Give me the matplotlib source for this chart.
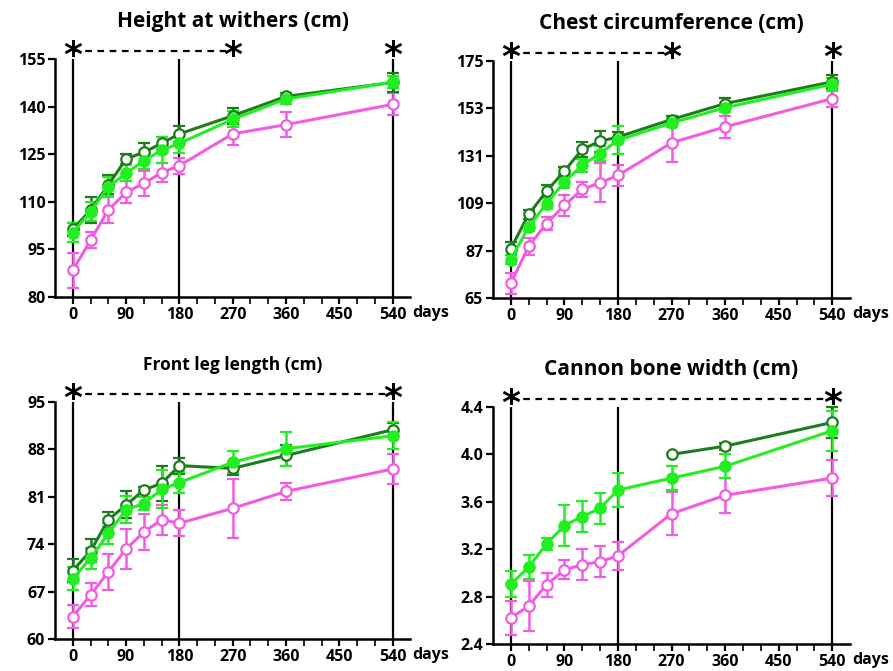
import matplotlib
matplotlib.use("Agg")
import matplotlib.pyplot as plt
import matplotlib.transforms as mtransforms
import numpy as np

plt.rcParams['font.family'] = ['Open Sans', 'DejaVu Sans']

days = [0, 30, 60, 90, 120, 150, 180, 270, 360, 540]

# Height at withers
hw_dark = [101.3, 107.4, 115.3, 123.5, 125.6, 128.4, 131.4, 137.1, 143.2, 147.6]
hw_dark_err = [2.0, 4.0, 3.0, 1.5, 3.0, 2.0, 2.5, 2.5, 1.0, 3.0]
hw_light = [100.3, 106.8, 114.7, 119.0, 122.9, 126.3, 128.4, 136.0, 142.4, 147.7]
hw_light_err = [3.0, 3.0, 3.0, 2.5, 2.5, 4.0, 3.0, 2.5, 1.5, 2.0]
hw_pink = [88.4, 97.9, 107.4, 113.0, 115.8, 119.2, 121.4, 131.4, 134.3, 140.7]
hw_pink_err = [5.5, 2.5, 4.0, 3.5, 4.0, 3.0, 2.5, 3.5, 4.0, 3.5]

# Chest circumference
cc_dark = [87.9, 103.8, 114.5, 123.9, 134.0, 137.7, 139.7, 147.8, 155.2, 165.3]
cc_dark_err = [3.0, 2.0, 3.0, 2.0, 3.5, 5.0, 2.5, 1.5, 2.5, 3.0]
cc_light = [82.8, 98.0, 108.8, 118.8, 126.6, 132.0, 138.2, 146.2, 153.3, 164.2]
cc_light_err = [2.0, 2.0, 2.5, 3.0, 3.0, 3.5, 6.5, 2.0, 2.0, 3.0]
cc_pink = [71.7, 89.0, 99.5, 108.0, 115.4, 118.4, 121.9, 137.0, 144.4, 157.5]
cc_pink_err = [5.0, 4.0, 3.0, 5.0, 3.5, 9.0, 5.0, 9.0, 5.0, 4.0]

# Front leg length
fl_dark = [70.1, 73.0, 77.6, 79.8, 82.0, 83.0, 85.6, 85.2, 87.1, 90.9]
fl_dark_err = [1.7, 1.7, 1.2, 2.0, 0.5, 2.6, 1.2, 1.0, 1.5, 1.0]
fl_light = [68.9, 71.9, 75.6, 79.1, 80.0, 82.1, 83.1, 86.1, 88.1, 90.0]
fl_light_err = [1.7, 1.5, 1.5, 2.0, 1.0, 2.8, 1.6, 1.6, 2.5, 2.0]
fl_pink = [63.3, 66.5, 69.9, 73.3, 75.8, 77.6, 77.1, 79.3, 81.8, 85.1]
fl_pink_err = [1.7, 1.7, 2.7, 3.0, 2.7, 2.2, 1.9, 4.4, 1.3, 2.2]

# Cannon bone width
cb_dark = [np.nan, np.nan, np.nan, np.nan, np.nan, np.nan, np.nan, 4.0, 4.07, 4.27]
cb_dark_err = [0, 0, 0, 0, 0, 0, 0, 0.0, 0.03, 0.13]
cb_light = [2.904, 3.05, 3.245, 3.40, 3.476, 3.546, 3.70, 3.80, 3.90, 4.20]
cb_light_err = [0.11, 0.10, 0.05, 0.17, 0.13, 0.13, 0.14, 0.10, 0.10, 0.17]
cb_pink = [2.62, 2.72, 2.90, 3.025, 3.07, 3.095, 3.145, 3.50, 3.655, 3.80]
cb_pink_err = [0.14, 0.21, 0.10, 0.08, 0.13, 0.13, 0.12, 0.18, 0.15, 0.15]

DARK = "#1d7d1d"
LIGHT = "#22ee22"
PINK = "#f25ce0"

fig = plt.figure(figsize=(8.93, 6.71), dpi=100)

panels = [
    dict(pos=[0.0616, 0.5574, 0.398, 0.3547], title="Height at withers (cm)", tsize=15,
         ylim=(80, 155), yticks=[80, 95, 110, 125, 140, 155], yfmt="{:.0f}",
         dark=(hw_dark, hw_dark_err), light=(hw_light, hw_light_err), pink=(hw_pink, hw_pink_err),
         stars=[0, 270, 540], dash_end=270),
    dict(pos=[0.552, 0.556, 0.400, 0.3532], title="Chest circumference (cm)", tsize=15,
         ylim=(65, 175), yticks=[65, 87, 109, 131, 153, 175], yfmt="{:.0f}",
         dark=(cc_dark, cc_dark_err), light=(cc_light, cc_light_err), pink=(cc_pink, cc_pink_err),
         stars=[0, 270, 540], dash_end=270),
    dict(pos=[0.0616, 0.0477, 0.398, 0.3532], title="Front leg length (cm)", tsize=12.5,
         ylim=(60, 95), yticks=[60, 67, 74, 81, 88, 95], yfmt="{:.0f}",
         dark=(fl_dark, fl_dark_err), light=(fl_light, fl_light_err), pink=(fl_pink, fl_pink_err),
         stars=[0, 540], dash_end=540),
    dict(pos=[0.552, 0.0402, 0.400, 0.3532], title="Cannon bone width (cm)", tsize=15,
         ylim=(2.4, 4.4), yticks=[2.4, 2.8, 3.2, 3.6, 4.0, 4.4], yfmt="{:.1f}",
         dark=(cb_dark, cb_dark_err), light=(cb_light, cb_light_err), pink=(cb_pink, cb_pink_err),
         stars=[0, 540], dash_end=540),
]

STAR_SIZE = 26

for p in panels:
    ax = fig.add_axes(p["pos"])
    ax.set_xlim(-30, 570)
    ax.set_ylim(*p["ylim"])

    for xv in [0, 180, 540]:
        ax.axvline(xv, color="black", lw=1.6, zorder=1)

    for (vals, errs), col, face in [(p["pink"], PINK, "white"),
                                     (p["dark"], DARK, "white"),
                                     (p["light"], LIGHT, LIGHT)]:
        ax.errorbar(days, vals, yerr=errs, color=col, lw=2.2, marker="o", markersize=7.5,
                    markerfacecolor=face, markeredgecolor=col, markeredgewidth=1.6,
                    capsize=4, capthick=1.8, elinewidth=1.8, zorder=3, clip_on=False)

    # significance bar above the axes
    trans = mtransforms.blended_transform_factory(ax.transData, ax.transAxes)
    bar_y = 1.035
    ax.plot([0, p["dash_end"]], [bar_y, bar_y], transform=trans, color="black",
            lw=1.6, ls=(0, (3, 2.5)), clip_on=False)
    # shift asterisk down so its glyph centre sits on the dashed line
    star_trans = trans + mtransforms.ScaledTranslation(0, -0.42 * STAR_SIZE / 72, fig.dpi_scale_trans)
    for sx in p["stars"]:
        ax.text(sx, bar_y, "*", transform=star_trans, ha="center", va="baseline",
                fontsize=STAR_SIZE, fontweight="bold", family="DejaVu Sans")

    ax.set_title(p["title"], fontsize=p["tsize"], fontweight="bold", pad=23)

    ax.spines["top"].set_visible(False)
    ax.spines["right"].set_visible(False)
    for s in ["left", "bottom"]:
        ax.spines[s].set_linewidth(1.8)

    ax.set_xticks([0, 90, 180, 270, 360, 450, 540])
    ax.set_xticks(np.arange(0, 541, 30), minor=True)
    ax.set_yticks(p["yticks"])
    ax.set_yticklabels([p["yfmt"].format(v) for v in p["yticks"]])
    ax.tick_params(which="major", direction="out", length=5, width=1.6, labelsize=11.5, pad=2)
    ax.tick_params(which="minor", direction="out", length=5, width=1.2)
    for lbl in ax.get_xticklabels() + ax.get_yticklabels():
        lbl.set_fontweight("bold")
    ax.text(1.005, -0.035, "days", transform=ax.transAxes, ha="left", va="top",
            fontsize=11.5, fontweight="bold")

fig.savefig("out.png", dpi=100)
